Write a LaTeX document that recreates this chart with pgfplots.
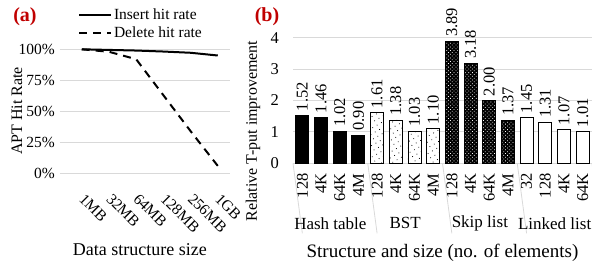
\documentclass[border=0pt]{standalone}
\usepackage{fontspec}
\setmainfont{Liberation Serif}
\usepackage{pgfplots}
\pgfplotsset{compat=1.18}
\usetikzlibrary{patterns,patterns.meta}
\definecolor{hdr}{RGB}{192,0,0}
\definecolor{gridc}{RGB}{217,217,217}
\begin{document}
\begin{tikzpicture}[x=1pt,y=1pt]
\path[use as bounding box] (0,0) rectangle (592,262);
% panel labels
\node[font=\fontsize{20}{20}\selectfont\bfseries, text=hdr] at (25,245) {(a)};
\node[font=\fontsize{20}{20}\selectfont\bfseries, text=hdr] at (267,245) {(b)};
% axis titles placed by hand
\node[font=\fontsize{16}{16}\selectfont, rotate=90] at (17,151) {APT Hit Rate};
\node[font=\fontsize{16}{16}\selectfont, rotate=90] at (253,131) {Relative T-put improvement};
% ---------- panel (a)
\begin{axis}[
  at={(60pt,88.7pt)}, anchor=south west,
  scale only axis, width=170pt, height=124pt,
  xmin=-0.8, xmax=5.45, ymin=0, ymax=100,
  clip=false,
  axis line style={draw=none},
  major tick length=0pt,
  ymajorgrids, grid style={gridc, line width=0.8pt},
  ytick={0,25,50,75,100},
  yticklabels={0\%,25\%,50\%,75\%,100\%},
  yticklabel style={inner sep=0pt, anchor=east, xshift=-5pt},
  xtick={0,...,5},
  xticklabels={1MB,32MB,64MB,128MB,256MB,1GB},
  xticklabel style={yshift=-23pt, rotate=-45, anchor=west, inner sep=0pt},
  tick label style={font=\fontsize{15.5}{15.5}\selectfont},
  xlabel={Data structure size},
  xlabel style={font=\fontsize{18}{18}\selectfont, at={(axis description cs:0.47,0)}, anchor=north, yshift=-67pt},
  legend style={at={(0.105,1.345)}, anchor=north west, draw=none, fill=none,
    font=\fontsize{15.5}{15.5}\selectfont, inner sep=0pt, row sep=2pt, cells={anchor=west}},
  legend image code/.code={\draw[#1] (0pt,0pt) -- (32pt,0pt);},
]
\addplot[black, line width=2pt] coordinates {(0,100) (1,99.5) (2,99) (3,98.2) (4,97.2) (5,95)};
\addlegendentry{Insert hit rate}
\addplot[black, line width=2pt, dash pattern=on 8pt off 6pt] coordinates {(0,100) (1,98) (2,92) (3,63) (4,34) (5,6)};
\addlegendentry{Delete hit rate}
\end{axis}
% ---------- panel (b)
\begin{axis}[
  at={(293pt,98.7pt)}, anchor=south west,
  scale only axis, width=299pt, height=125.6pt,
  xmin=-0.5, xmax=15.5, ymin=0, ymax=4,
  clip=false,
  axis line style={draw=none},
  major tick length=0pt,
  ymajorgrids, grid style={gridc, line width=0.8pt},
  ytick={0,1,2,3,4},
  yticklabels={0,1,2,3,4},
  yticklabel style={inner sep=0pt, anchor=east, xshift=-14pt},
  xtick={0,...,15},
  xticklabels={128,4K,64K,4M,128,4K,64K,4M,128,4K,64K,4M,32,128,4K,64K},
  xticklabel style={yshift=-10pt, rotate=90, anchor=east, inner sep=0pt},
  tick label style={font=\fontsize{16.5}{16.5}\selectfont},
  ybar, bar width=13pt, bar shift=0pt,
  nodes near coords={\pgfmathprintnumber[fixed, fixed zerofill, precision=2]{\pgfplotspointmeta}},
  /pgf/number format/assume math mode=true,
  every node near coord/.append style={rotate=90, anchor=west, font=\fontsize{16.5}{16.5}\selectfont, inner sep=0pt, xshift=4pt},
]
\addplot[draw=black, line width=0.9pt, fill=black] coordinates {(0,1.52) (1,1.46) (2,1.02) (3,0.90)};
\addplot[draw=black, line width=0.9pt, fill=white, postaction={pattern={Dots[distance=5pt, radius=0.55pt, angle=30]}, pattern color=black}] coordinates {(4,1.61) (5,1.38) (6,1.03) (7,1.10)};
\addplot[draw=black, line width=0.9pt, fill=black, postaction={pattern={Dots[distance=2.6pt, radius=0.55pt, angle=45]}, pattern color=white}] coordinates {(8,3.89) (9,3.18) (10,2.00) (11,1.37)};
\addplot[draw=black, line width=0.9pt, fill=white] coordinates {(12,1.45) (13,1.31) (14,1.07) (15,1.01)};
\pgfplotsinvokeforeach{-0.5,3.5,7.5,11.5,15.5}{
  \draw[gridc, line width=0.8pt] (axis cs:#1,0) -- ++(0,-70pt);
}
\node[font=\fontsize{17}{17}\selectfont] at (axis cs:1.5,0) [yshift=-60pt] {Hash table};
\node[font=\fontsize{17}{17}\selectfont] at (axis cs:5.5,0) [yshift=-60pt] {BST};
\node[font=\fontsize{17}{17}\selectfont] at (axis cs:9.5,0) [yshift=-60pt] {Skip list};
\node[font=\fontsize{17}{17}\selectfont] at (axis cs:13.5,0) [yshift=-60pt] {Linked list};
\node[font=\fontsize{19}{19}\selectfont] at (axis cs:7.5,0) [yshift=-90pt] {Structure and size (no. of elements)};
\end{axis}
\end{tikzpicture}
\end{document}
